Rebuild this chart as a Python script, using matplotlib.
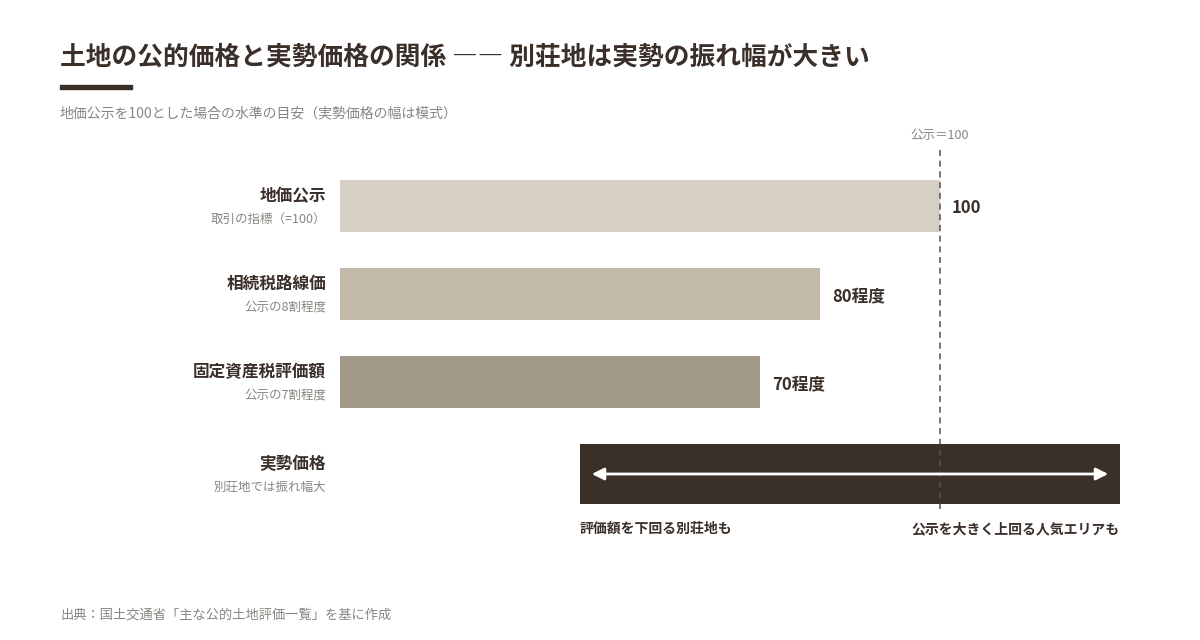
import matplotlib
matplotlib.use('Agg')
import matplotlib.pyplot as plt

plt.rcParams['font.family'] = ['Noto Sans CJK JP', 'DejaVu Sans']

# data
labels = ['地価公示', '相続税路線価', '固定資産税評価額', '実勢価格']
sublabels = ['取引の指標（=100）', '公示の8割程度', '公示の7割程度', '別荘地では振れ幅大']
values = [100, 80, 70]
value_text = ['100', '80程度', '70程度']
range_lo, range_hi = 40, 130
colors = ['#d6cfc3', '#c4baab', '#a39a8c']
dark = '#3a2f29'
gray = '#8a8580'

W, H = 1200, 640
fig = plt.figure(figsize=(W / 100, H / 100), dpi=100)
fig.patch.set_facecolor('white')

# bar axes: pixel rows on y, value on x (340px = 0, 940px = 100)
ax = fig.add_axes([340 / W, 0, 860 / W, 1])
ax.set_xlim(0, 860 / 6)
ax.set_ylim(H, 0)
ax.axis('off')

row_y = [206 + i * 88 for i in range(3)] + [474]
for i, v in enumerate(values):
    ax.barh(row_y[i], v, height=52, color=colors[i], left=0)
    ax.text(v + 2, row_y[i] + 2, value_text[i], ha='left', va='center',
            fontsize=12, fontweight='bold', color=dark)
ax.barh(row_y[3], range_hi - range_lo, left=range_lo, height=60, color=dark)
ax.annotate('', xy=(range_hi - 1.5, row_y[3]), xytext=(range_lo + 1.5, row_y[3]),
            arrowprops=dict(arrowstyle='<|-|>', color='white', lw=2,
                            mutation_scale=18))
ax.plot([100, 100], [150, 510], ls=(0, (4, 3)), color='#555050', lw=1.1)
ax.text(100, 136, '公示＝100', ha='center', va='center', fontsize=9, color=gray)
ax.text(range_lo, 529, '評価額を下回る別荘地も', ha='left', va='center',
        fontsize=10, fontweight='bold', color=dark)
ax.text(range_hi, 529, '公示を大きく上回る人気エリアも', ha='right', va='center',
        fontsize=10, fontweight='bold', color=dark)

# row labels
for i, (lab, sub) in enumerate(zip(labels, sublabels)):
    fig.text(326 / W, 1 - (row_y[i] - 10) / H, lab, ha='right', va='center',
             fontsize=12, fontweight='bold', color=dark)
    fig.text(326 / W, 1 - (row_y[i] + 13) / H, sub, ha='right', va='center',
             fontsize=9, color=gray)

fig.text(60 / W, 1 - 57 / H, '土地の公的価格と実勢価格の関係 ―― 別荘地は実勢の振れ幅が大きい',
         ha='left', va='center', fontsize=18.5, fontweight='bold', color=dark)
fig.add_artist(plt.Rectangle((60 / W, 1 - 89 / H), 72 / W, 4 / H,
                             color=dark, transform=fig.transFigure))
fig.text(60 / W, 1 - 113 / H, '地価公示を100とした場合の水準の目安（実勢価格の幅は模式）',
         ha='left', va='center', fontsize=10, color=gray)
fig.text(60 / W, 1 - 615 / H, '出典：国土交通省「主な公的土地評価一覧」を基に作成',
         ha='left', va='center', fontsize=9.5, color=gray)

fig.savefig('out.png', dpi=100)
